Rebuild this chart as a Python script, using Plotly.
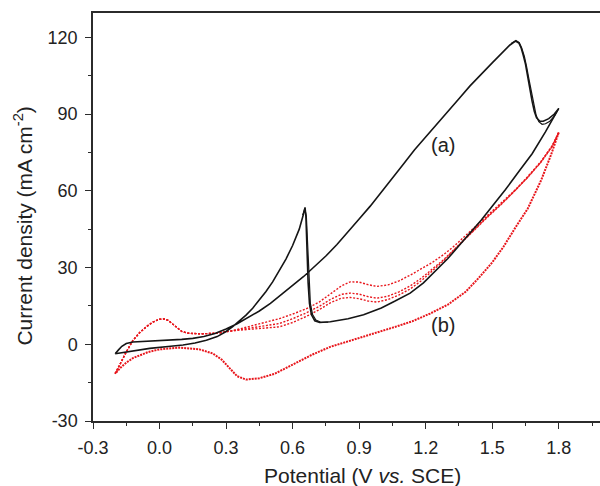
import plotly.graph_objects as go

# ---- (a) black CV: forward sweep (-0.2 -> 1.8 V) and reverse sweep (1.8 -> -0.2 V) ----
black_fwd_x = [-0.2, -0.165, -0.1, -0.044, 0.05, 0.106, 0.16, 0.211, 0.26, 0.3, 0.33, 0.36,
               0.39, 0.42, 0.45, 0.48, 0.51, 0.54, 0.57, 0.6, 0.63, 0.648, 0.656, 0.66, 0.663,
               0.666, 0.67, 0.676, 0.685, 0.70, 0.722, 0.77, 0.85, 0.92, 1.0, 1.06, 1.13, 1.19,
               1.25, 1.3, 1.35, 1.4, 1.45, 1.5, 1.56, 1.62, 1.68, 1.74, 1.8]
black_fwd_y = [-3.7, -3.2, -2.1, -1.6, -0.8, -0.3, 0.5, 1.6, 3.0, 5.0, 6.9, 9.0,
               11.4, 14.1, 17.2, 20.6, 24.4, 28.6, 33.3, 38.6, 45.0, 50.5, 53.5, 50.0, 42.0,
               32.0, 24.0, 16.0, 11.5, 9.2, 8.5, 8.8, 10.0, 11.5, 14.2, 16.8, 20.0, 24.0,
               29.0, 33.5, 38.5, 43.5, 48.5, 54.0, 60.5, 67.5, 74.5, 83.0, 92.2]
black_rev_x = [1.8, 1.78, 1.755, 1.73, 1.715, 1.70, 1.69, 1.68, 1.67, 1.66, 1.65, 1.64, 1.63,
               1.62, 1.605, 1.58, 1.55, 1.5, 1.45, 1.4, 1.35, 1.3, 1.25, 1.2, 1.15, 1.1, 1.05,
               1.0, 0.95, 0.9, 0.85, 0.8, 0.75, 0.7, 0.65, 0.6, 0.55, 0.5, 0.45, 0.4, 0.35, 0.3,
               0.25, 0.2, 0.15, 0.1, 0.03, -0.05, -0.12, -0.15, -0.17, -0.185, -0.2]
black_rev_y = [92.2, 90.0, 88.2, 87.2, 87.2, 88.5, 91.0, 95.0, 100.0, 105.0, 109.5, 113.0, 116.0,
               117.8, 118.5, 117.0, 114.5, 110.0, 105.5, 101.0, 96.0, 91.0, 86.0, 81.0, 76.0, 70.5, 65.0,
               59.5, 54.0, 49.0, 44.0, 39.0, 34.5, 30.5, 26.5, 23.0, 19.5, 16.0, 13.0, 10.5, 8.0, 6.0,
               4.2, 3.0, 2.3, 1.9, 1.6, 1.3, 0.9, 0.3, -0.8, -2.2, -3.7]

# second cycle of (a), visible where it separates from the first one
black_drop2_x = [0.645, 0.655, 0.662, 0.666, 0.669, 0.673, 0.68, 0.69, 0.705, 0.725, 0.76]
black_drop2_y = [50.5, 53.0, 50.0, 42.0, 32.0, 24.0, 16.0, 11.6, 9.5, 8.7, 8.6]
black_dip2_x = [1.8, 1.78, 1.76, 1.74, 1.725, 1.71, 1.698, 1.688, 1.677, 1.666, 1.655, 1.645,
                1.633, 1.622, 1.607, 1.585]
black_dip2_y = [92.2, 89.2, 87.2, 86.2, 86.0, 87.0, 89.5, 93.5, 98.5, 103.5, 108.5, 112.5,
                115.8, 117.9, 118.8, 117.6]

# ---- (b) red CV: several cycles ----
red_fwd_start_x = [-0.2, -0.18, -0.15, -0.12, -0.09, -0.06, -0.03, 0.0, 0.02, 0.04, 0.06, 0.08,
                   0.1, 0.13, 0.18, 0.23, 0.28, 0.33]
red_fwd_start_y = [-11.5, -8.0, -3.0, 1.5, 4.5, 6.8, 8.7, 9.8, 9.9, 9.3, 7.8, 6.2,
                   5.0, 4.3, 4.1, 4.2, 4.6, 5.3]
red_fwd_end_x = [0.4, 0.47, 0.54, 0.6, 0.66, 0.72, 0.77, 0.82, 0.86, 0.9, 0.94, 0.98, 1.03,
                 1.08, 1.13, 1.18, 1.23, 1.28, 1.33, 1.38, 1.43, 1.48, 1.54, 1.6, 1.66, 1.72,
                 1.77, 1.8]
red_fwd_cycle1_y = [6.8, 8.3, 10.0, 11.8, 13.8, 16.5, 19.5, 22.8, 24.4, 24.3, 23.3, 22.6, 23.2,
                    24.8, 27.0, 29.5, 32.0, 35.0, 38.5, 42.5, 46.5, 50.5, 55.0, 60.0, 65.5, 71.5,
                    77.5, 82.8]
red_fwd_cycle2_y = [6.2, 7.2, 8.1, 10.0, 12.2, 14.8, 17.5, 19.5, 20.0, 19.6, 18.6, 18.0, 18.8,
                    20.5, 22.8, 25.8, 29.3, 33.0, 37.2, 41.5, 45.8, 50.0, 54.8, 59.8, 65.3, 71.3,
                    77.4, 82.8]
red_fwd_cycle3_y = [5.8, 6.3, 6.8, 8.5, 10.8, 13.5, 16.2, 18.0, 18.3, 17.8, 16.9, 16.5, 17.5,
                    19.3, 21.6, 24.8, 28.6, 32.6, 37.0, 41.3, 45.6, 49.8, 54.6, 59.7, 65.2, 71.2,
                    77.3, 82.8]
red_rev_x = [1.8, 1.765, 1.72, 1.66, 1.6, 1.55, 1.5, 1.44, 1.38, 1.3, 1.22, 1.14, 1.07, 0.99,
             0.92, 0.84, 0.77, 0.69, 0.6, 0.52, 0.45, 0.39, 0.35, 0.317, 0.28, 0.24, 0.18, 0.09,
             0.0, -0.05, -0.09, -0.12, -0.15, -0.18, -0.2]
red_rev_y = [82.8, 74.0, 64.0, 53.0, 45.0, 38.0, 32.0, 26.0, 20.5, 15.5, 12.0, 9.0, 7.0, 4.8,
             3.0, 0.8, -1.0, -4.0, -8.0, -11.5, -13.3, -13.8, -12.5, -9.5, -6.0, -3.6, -2.0, -1.3,
             -2.0, -3.0, -4.2, -5.4, -7.2, -9.5, -11.5]

x_ticks = [-0.3, 0.0, 0.3, 0.6, 0.9, 1.2, 1.5, 1.8]
x_tick_text = ["-0.3", "0.0", "0.3", "0.6", "0.9", "1.2", "1.5", "1.8"]
y_ticks = [-30, 0, 30, 60, 90, 120]
y_tick_text = ["-30", "0", "30", "60", "90", "120"]

BLACK = "#151515"
RED = "#e8161c"
FONT = "Liberation Sans, Arial, sans-serif"

fig = go.Figure()

# (b) red cycles, dotted
for cyc_y in (red_fwd_cycle1_y, red_fwd_cycle2_y, red_fwd_cycle3_y):
    fig.add_trace(go.Scatter(x=red_fwd_start_x + red_fwd_end_x, y=red_fwd_start_y + cyc_y,
                             mode="lines", line=dict(color=RED, width=1.4, dash="2px,1.6px"),
                             hoverinfo="skip", showlegend=False))
fig.add_trace(go.Scatter(x=red_rev_x, y=red_rev_y, mode="lines",
                         line=dict(color=RED, width=2.0, dash="2px,1px"),
                         hoverinfo="skip", showlegend=False))

# (a) black cycles, solid
fig.add_trace(go.Scatter(x=black_fwd_x + black_rev_x, y=black_fwd_y + black_rev_y, mode="lines",
                         line=dict(color=BLACK, width=1.6), hoverinfo="skip", showlegend=False))
for sx, sy in ((black_drop2_x, black_drop2_y), (black_dip2_x, black_dip2_y)):
    fig.add_trace(go.Scatter(x=sx, y=sy, mode="lines", line=dict(color=BLACK, width=1.2),
                             hoverinfo="skip", showlegend=False))

axis_common = dict(
    showline=True, linecolor="#2b2b2b", linewidth=1.5,
    ticks="outside", ticklen=6, tickwidth=1.3, tickcolor="#2b2b2b",
    showgrid=False, zeroline=False,
    tickfont=dict(family=FONT, size=18, color="#222"),
)

fig.update_layout(
    width=600, height=486,
    margin=dict(l=93, r=0, t=13, b=65),
    paper_bgcolor="white", plot_bgcolor="white",
    xaxis=dict(range=[-0.3, 1.986], tickvals=x_ticks, ticktext=x_tick_text, mirror=True,
               ticklabelstandoff=4,
               minor=dict(dtick=0.15, tick0=-0.3, ticks="outside", ticklen=3.5,
                          tickwidth=1.2, tickcolor="#2b2b2b"),
               **axis_common),
    yaxis=dict(range=[-30, 129.5], tickvals=y_ticks, ticktext=y_tick_text,
               ticklabelstandoff=4,
               minor=dict(dtick=15, tick0=-30, ticks="outside", ticklen=3.5,
                          tickwidth=1.2, tickcolor="#2b2b2b"),
               **axis_common),
    font=dict(family=FONT, color="#222"),
    annotations=[
        dict(text="Potential (V <i>vs.</i> SCE)", xref="x", yref="paper", x=0.914, y=-0.1325,
             xanchor="center", yanchor="middle", showarrow=False,
             font=dict(family=FONT, size=21, color="#222")),
        dict(text="Current density (mA cm<sup>-2</sup>)", xref="paper", yref="y",
             x=-0.138, y=46, xanchor="center", yanchor="middle", textangle=-90,
             showarrow=False, font=dict(family=FONT, size=21, color="#222")),
        dict(text="(a)", xref="x", yref="y", x=1.279, y=77.8, showarrow=False,
             font=dict(family=FONT, size=20, color="#222")),
        dict(text="(b)", xref="x", yref="y", x=1.279, y=7.4, showarrow=False,
             font=dict(family=FONT, size=20, color="#222")),
    ],
)

fig.write_html("out.html")
